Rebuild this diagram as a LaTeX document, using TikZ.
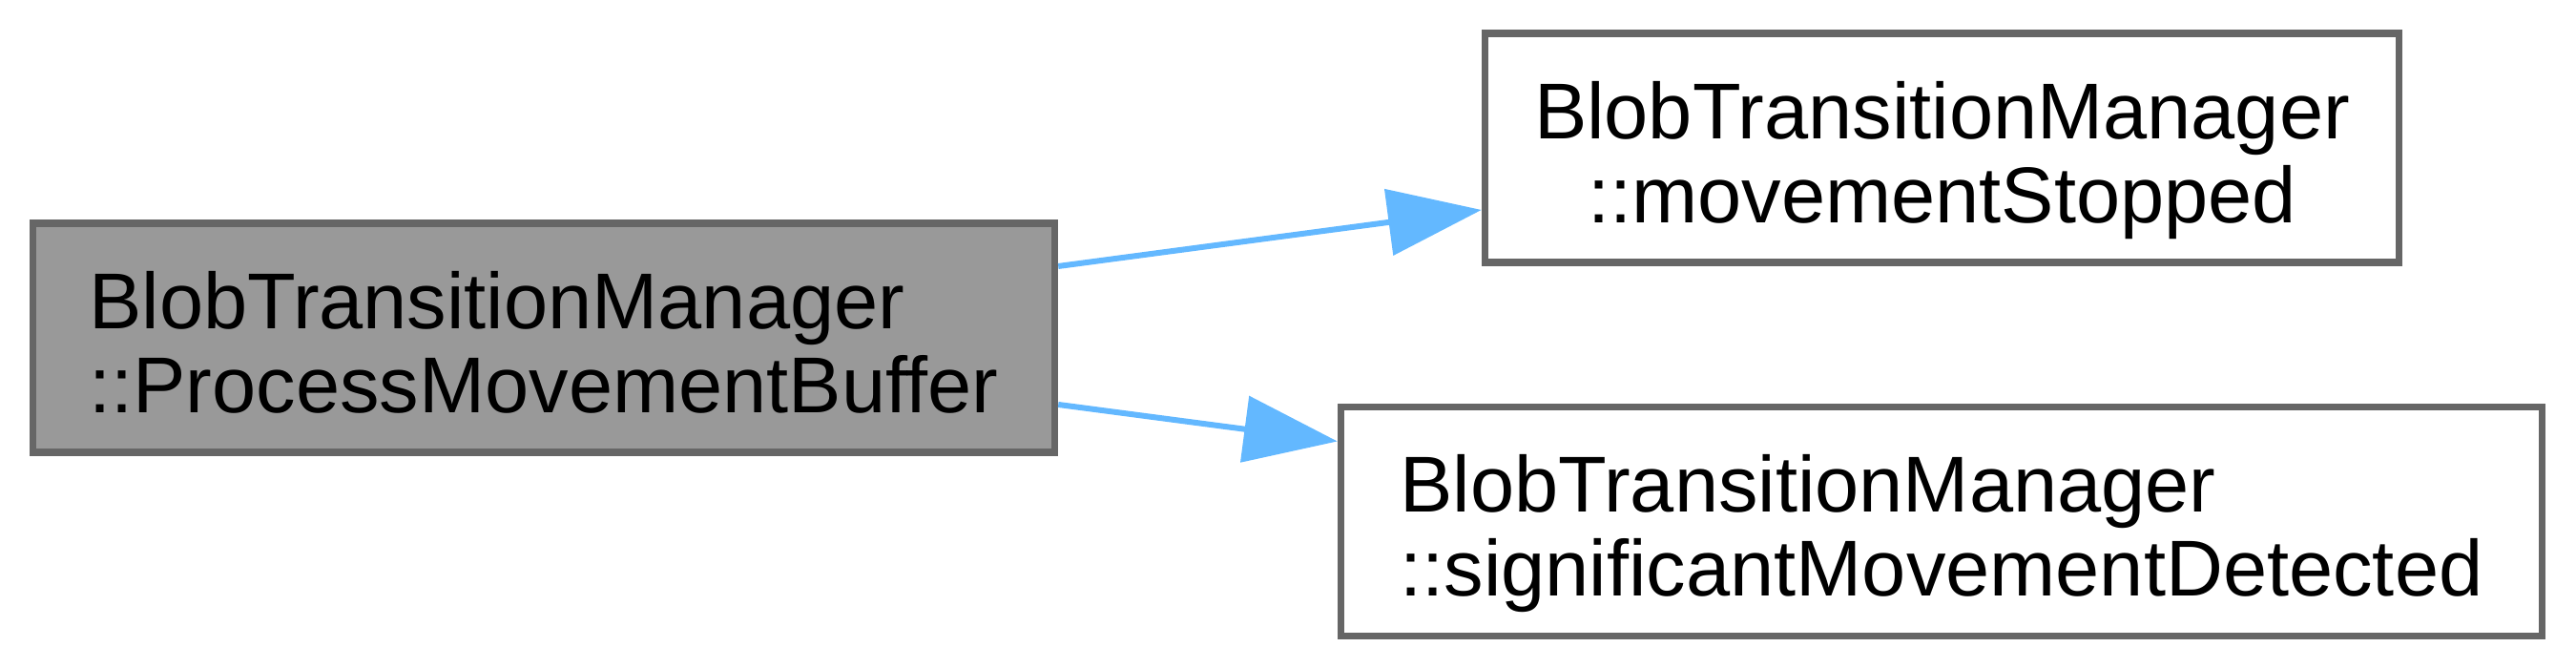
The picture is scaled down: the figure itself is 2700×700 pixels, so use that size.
\documentclass[tikz,border=0pt]{standalone}
\usepackage{fontspec}
\setmainfont{Liberation Sans}
\usepackage{tikz}
\usetikzlibrary{arrows.meta, positioning, calc}

\definecolor{edgeblue}{HTML}{63B8FF}
\definecolor{boxline}{HTML}{666666}
\definecolor{boxfill}{HTML}{999999}

% two-line member label with fixed baselines
\newcommand{\memberlabel}[2]{\rule{0pt}{6.9pt}#1\\\smash{#2}}

\begin{document}
\begin{tikzpicture}[x=0.1pt, y=-0.1pt, >=Triangle,
    fn/.style={draw=boxline, line width=0.75pt, inner sep=0pt,
      font=\fontsize{8.3}{8.8}\selectfont, minimum height=24pt},
    call/.style={->, draw=edgeblue, line width=0.6pt,
      -{Triangle[length=9.8pt, width=6.9pt, fill=edgeblue]}}]
  \useasboundingbox (0,0) rectangle (2700,700);

  % Caller
  \node[fn, fill=boxfill, align=left, minimum width=107.1pt]
    (buffer) at (570,354)
    {\memberlabel{BlobTransitionManager}{::ProcessMovementBuffer}};

  % Callees
  \node[fn, fill=white, align=center, minimum width=95.8pt]
    (stopped) at (2035.5,155)
    {\memberlabel{BlobTransitionManager}{::movementStopped}};
  \node[fn, fill=white, align=left, minimum width=125.9pt]
    (detected) at (2035,546.5)
    {\memberlabel{BlobTransitionManager}{::significantMovementDetected}};

  % Calls
  \draw[call] ([yshift=7.5pt]buffer.east) -- ([yshift=-6.5pt]stopped.west);
  \draw[call] ([yshift=-7pt]buffer.east) -- ([yshift=8.4pt]detected.west);
\end{tikzpicture}
\end{document}
